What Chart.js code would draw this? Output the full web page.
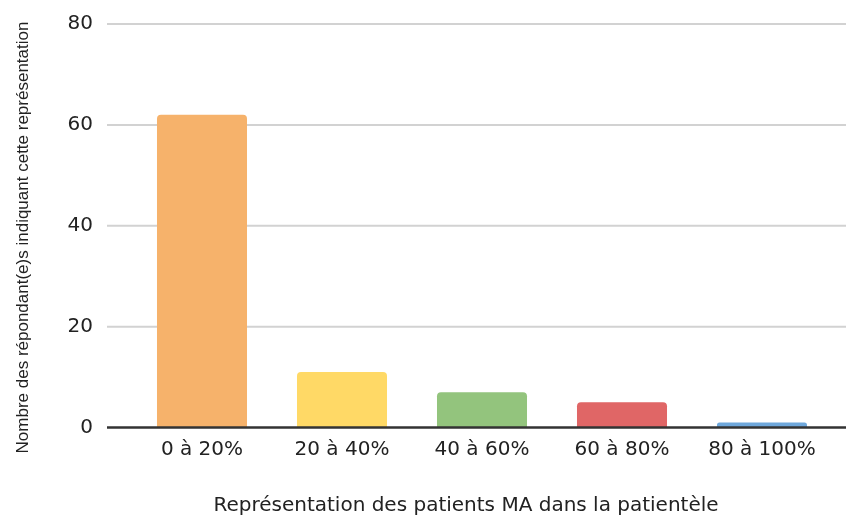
<!DOCTYPE html>
<html>
<head>
<meta charset="utf-8">
<script src="https://cdn.jsdelivr.net/npm/chart.js@4/dist/chart.umd.min.js"></script>
<style>
  html, body { margin: 0; padding: 0; background: #ffffff; }
  #wrap { width: 846px; height: 516px; }
</style>
</head>
<body>
<div id="wrap"><canvas id="chart" width="846" height="516"></canvas></div>
<script>
// Survey answers: share of MA patients in the practice, and number of respondents per band
const categories = ['0 à 20%', '20 à 40%', '40 à 60%', '60 à 80%', '80 à 100%'];
const respondents = [62, 11, 7, 5, 1];
const barColors = ['#F6B26B', '#FFD966', '#93C47D', '#E06666', '#6FA8DC'];
const yTickValues = [0, 20, 40, 60, 80];
const xAxisTitle = 'Représentation des patients MA dans la patientèle';
const yAxisTitle = 'Nombre des répondant(e)s indiquant cette représentation';

const TEXT = '#222222';

// Gridlines reach past the plot on both sides; the zero line sits on top of the bars;
// axis titles are placed by hand.
const framePlugin = {
  id: 'frame',
  beforeDatasetsDraw(chart) {
    const { ctx, chartArea } = chart;
    const y = chart.scales.y;
    ctx.save();
    ctx.strokeStyle = '#d2d2d2';
    ctx.lineWidth = 2;
    y.ticks.forEach(t => {
      if (t.value === 0) return;
      const py = y.getPixelForValue(t.value);
      ctx.beginPath();
      ctx.moveTo(chartArea.left - 25, py);
      ctx.lineTo(chart.width, py);
      ctx.stroke();
    });
    ctx.restore();
  },
  afterDatasetsDraw(chart) {
    const { ctx, chartArea } = chart;
    const y = chart.scales.y;
    const py = y.getPixelForValue(0);
    ctx.save();
    ctx.strokeStyle = '#333333';
    ctx.lineWidth = 2.5;
    ctx.beginPath();
    ctx.moveTo(chartArea.left - 25, py);
    ctx.lineTo(chart.width, py);
    ctx.stroke();
    ctx.restore();
  },
  afterDraw(chart) {
    const { ctx } = chart;
    ctx.save();
    ctx.fillStyle = TEXT;
    // x axis title
    ctx.font = '20px "DejaVu Sans"';
    ctx.textAlign = 'center';
    ctx.textBaseline = 'alphabetic';
    ctx.fillText(xAxisTitle, 466, 511);
    // y axis title, rotated
    ctx.translate(28, 237.5);
    ctx.rotate(-Math.PI / 2);
    ctx.font = '17px "Liberation Sans"';
    ctx.fillText(yAxisTitle, 0, 0);
    ctx.restore();
  }
};

new Chart(document.getElementById('chart'), {
  type: 'bar',
  data: {
    labels: categories,
    datasets: [{
      data: respondents,
      backgroundColor: barColors,
      borderWidth: 0,
      borderRadius: { topLeft: 4, topRight: 4, bottomLeft: 0, bottomRight: 0 },
      borderSkipped: 'start',
      categoryPercentage: 1,
      barPercentage: 0.643
    }]
  },
  options: {
    responsive: false,
    animation: false,
    devicePixelRatio: 1,
    layout: { padding: { top: 24, right: 14, left: 0, bottom: 0 } },
    plugins: {
      legend: { display: false },
      tooltip: { enabled: false },
      title: { display: false }
    },
    scales: {
      x: {
        grid: { display: false, drawTicks: false },
        border: { display: false },
        ticks: {
          color: TEXT,
          font: { family: 'DejaVu Sans', size: 20 },
          padding: 10,
          maxRotation: 0,
          autoSkip: false
        },
        afterFit(scale) { scale.height = 88.5; }
      },
      y: {
        min: 0,
        max: 80,
        grid: { display: false, drawTicks: false },
        border: { display: false },
        afterBuildTicks(scale) {
          scale.ticks = yTickValues.map(v => ({ value: v }));
        },
        ticks: {
          color: TEXT,
          font: { family: 'DejaVu Sans', size: 20 },
          padding: 39
        },
        afterFit(scale) {
          scale.width = 132;
          scale.paddingTop = 0;
          scale.paddingBottom = 0;
        }
      }
    }
  },
  plugins: [framePlugin]
});
</script>
</body>
</html>
